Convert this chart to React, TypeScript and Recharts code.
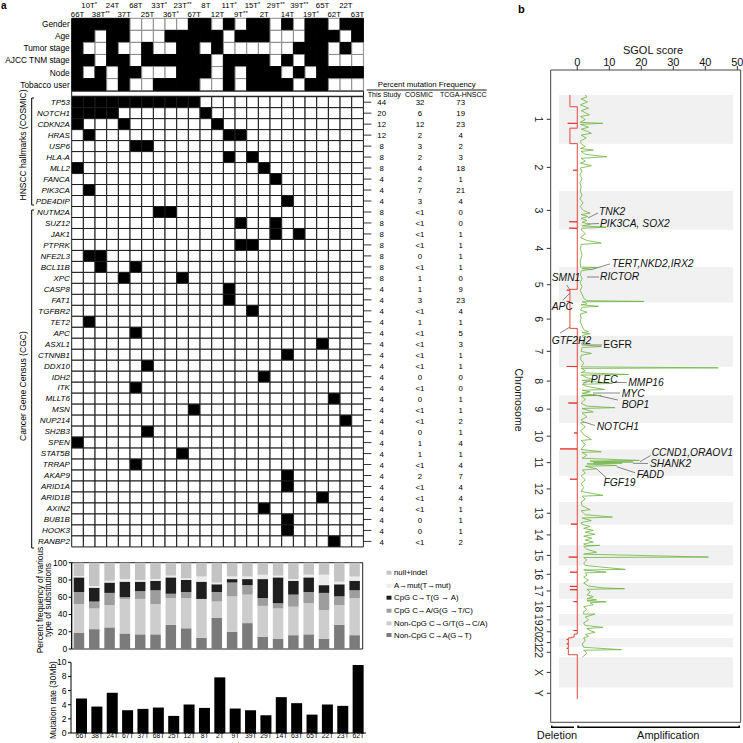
import React from 'react';
import {
  BarChart, Bar, XAxis, YAxis, Cell, ScatterChart, Scatter,
  ReferenceArea, ReferenceLine, ReferenceDot,
} from 'recharts';

const FONT = '"Liberation Sans", Arial, Helvetica, sans-serif';

// ---------------- Panel a data ----------------
const SAMPLES = ['66T', '10T*', '38T**', '24T', '37T', '68T', '25T', '33T*', '36T*', '23T**', '67T', '8T', '12T',
  '11T*', '9T**', '15T*', '2T', '29T**', '14T', '39T**', '19T*', '65T', '62T', '22T', '63T'];

const CLINICAL_ROWS = ['Gender', 'Age', 'Tumor stage', 'AJCC TNM stage', 'Node', 'Tobacco user'];
const GENDER = [1, 1, 1, 1, 1, 0, 0, 0, 0, 0, 1, 1, 0, 1, 0, 1, 1, 0, 1, 0, 1, 1, 0, 1, 1];
const AGE = [1, 1, 0, 1, 1, 0, 0, 0, 1, 1, 1, 1, 1, 0, 1, 1, 1, 0, 0, 0, 1, 1, 1, 0, 1];
const TUMOR_STAGE = [1, 0, 0, 1, 0, 0, 1, 0, 0, 1, 1, 0, 1, 0, 0, 0, 0, 0, 0, 1, 1, 1, 0, 1, 0];
const AJCC_STAGE = [1, 1, 0, 1, 1, 0, 1, 1, 1, 1, 1, 1, 0, 1, 1, 1, 1, 0, 1, 0, 1, 1, 0, 0, 0];
const NODE = [1, 0, 1, 0, 1, 1, 0, 0, 0, 1, 1, 1, 0, 1, 0, 1, 1, 1, 0, 1, 0, 1, 1, 1, 1];
const TOBACCO = [1, 1, 1, 0, 1, 0, 0, 1, 1, 1, 1, 0, 0, 1, 0, 1, 1, 1, 1, 0, 1, 1, 0, 0, 0];
const CLINICAL_VALUES = [GENDER, AGE, TUMOR_STAGE, AJCC_STAGE, NODE, TOBACCO];

const HALLMARK_GENES = ['TP53', 'NOTCH1', 'CDKN2A', 'HRAS', 'USP6', 'HLA-A', 'MLL2', 'FANCA', 'PIK3CA', 'PDE4DIP'];
const CGC_GENES = ['NUTM2A', 'SUZ12', 'JAK1', 'PTPRK', 'NFE2L3', 'BCL11B', 'XPC', 'CASP8', 'FAT1', 'TGFBR2', 'TET2',
  'APC', 'ASXL1', 'CTNNB1', 'DDX10', 'IDH2', 'ITK', 'MLLT6', 'MSN', 'NUP214', 'SH2B3', 'SPEN', 'STAT5B', 'TRRAP',
  'AKAP9', 'ARID1A', 'ARID1B', 'AXIN2', 'BUB1B', 'HOOK3', 'RANBP2'];
const GENES = [...HALLMARK_GENES, ...CGC_GENES];

// mutated sample columns (index into SAMPLES) per gene
const MUTATED_COLUMNS = [
  [0, 1, 2, 3, 4, 5, 6, 7, 8, 9, 10], [0, 1, 2, 3, 11], [0, 4, 12], [1, 13, 14], [5, 6], [13, 15], [0, 16], [17], [1], [18],
  [7, 8], [14, 17], [17, 19], [14, 15], [1, 2], [2, 5], [4, 9], [13], [13], [15], [1],
  [5], [21], [18], [6], [16], [5], [22], [10], [23], [6], [0], [9], [5],
  [18], [18], [21], [16], [18], [18], [22],
];

const FREQ_STUDY = ['44', '20', '12', '12', '8', '8', '8', '4', '4', '4', '8', '8', '8', '8', '8', '8', '8', '4', '4', '4', '4',
  '4', '4', '4', '4', '4', '4', '4', '4', '4', '4', '4', '4', '4', '4', '4', '4', '4', '4', '4', '4'];
const FREQ_COSMIC = ['32', '6', '12', '2', '3', '2', '4', '2', '7', '3', '<1', '<1', '<1', '<1', '0', '<1', '1', '1', '3', '<1', '1',
  '<1', '<1', '<1', '<1', '0', '<1', '0', '<1', '<1', '0', '1', '1', '<1', '2', '<1', '<1', '<1', '0', '0', '<1'];
const FREQ_TCGA = ['73', '19', '23', '4', '2', '3', '18', '1', '21', '4', '0', '0', '1', '1', '1', '1', '0', '9', '23', '4', '1',
  '5', '3', '1', '1', '0', '0', '1', '1', '2', '1', '4', '1', '4', '7', '4', '4', '1', '1', '1', '2'];

const SUB_SAMPLES = ['66T', '38T', '24T', '67T', '37T', '68T', '25T', '12T', '8T', '2T', '9T', '39T', '29T', '14T', '63T',
  '65T', '22T', '23T', '62T'];
const SUB_NONCPG_CA = [19, 23, 25, 18, 17, 17, 28, 24, 13, 36, 20, 30, 14, 12, 16, 17, 12, 28, 16];
const SUB_NONCPG_CGT = [33, 24, 26, 40, 41, 35, 31, 35, 45, 19, 41, 33, 36, 35, 33, 36, 33, 23, 43];
const SUB_CPG_CAG = [14, 8, 14, 2, 9, 16, 5, 7, 0, 11, 16, 11, 9, 6, 14, 13, 20, 10, 9];
const SUB_CPG_CT = [17, 16, 12, 18, 11, 11, 19, 14, 20, 9, 4, 7, 22, 30, 16, 17, 9, 14, 11];
const SUB_A_MUT = [1.5, 2, 2, 3, 2, 2, 2, 2, 6, 2, 3, 3, 5, 2, 2, 3, 12, 3, 5];
const SUB_NULL_INDEL = [15.5, 27, 21, 19, 20, 19, 15, 18, 16, 23, 16, 16, 14, 15, 19, 14, 14, 22, 16];
const SUB_LABELS = ['Non-CpG C\u2192A(G\u2192T)', 'Non-CpG C\u2192G/T(G\u2192C/A)', 'CpG C\u2192A/G(G \u2192T/C)',
  'CpG C\u2192T(G \u2192 A)', 'A\u2192mut(T\u2192mut)', 'null+indel'];
const SUB_COLORS = ['#7b7b7b', '#cdcdcd', '#9d9d9d', '#1e1e1e', '#ebebeb', '#c4c4c4'];

const MUTATION_RATE = [4.88, 3.74, 5.69, 3.22, 3.41, 3.6, 2.42, 4.03, 3.55, 7.87, 3.46, 3.22, 2.51, 5.07, 4.22, 2.6, 4.03, 3.84, 9.62];
const RATE_TICKS = [0, 2, 4, 6, 8, 10];
const PCT_TICKS = [0, 20, 40, 60, 80, 100];

// ---------------- Panel b data ----------------
const CHROMS = ['1', '2', '3', '4', '5', '6', '7', '8', '9', '10', '11', '12', '13', '14', '15', '16', '17', '18', '19', '20', '21', '22', 'X', 'Y'];
const CHROM_LENGTH_MB = [249, 243, 198, 191, 181, 171, 159, 146, 141, 136, 135, 134, 115, 107, 103, 90, 81, 78, 59, 63, 48, 51, 155, 59];
const SGOL_TICKS = [0, 10, 20, 30, 40, 50];

// amplification SGOL profile: [chromosome, Mb within chromosome, score]
const AMP_PROFILE: [string, number, number][] = [
  ['1', 0, 2.5], ['1', 10, 3], ['1', 20, 1.2], ['1', 35, 3.2], ['1', 50, 1], ['1', 68, 3.5], ['1', 80, 1.2], ['1', 95, 3],
  ['1', 102, 3.8], ['1', 110, 1], ['1', 125, 2.5], ['1', 140, 0.9], ['1', 145, 8], ['1', 150, 1], ['1', 165, 3.5], ['1', 175, 1.2],
  ['1', 185, 3], ['1', 196, 4.4], ['1', 205, 1.2], ['1', 220, 2.8], ['1', 235, 1], ['1', 249, 1.2],
  ['2', 15, 2.5], ['2', 25, 1], ['2', 33, 5], ['2', 40, 1.2], ['2', 55, 2.5], ['2', 67, 9.2], ['2', 75, 1.2], ['2', 90, 2.5],
  ['2', 100, 1], ['2', 113, 4.4], ['2', 125, 0.9], ['2', 140, 1.5], ['2', 160, 0.8], ['2', 180, 1.5], ['2', 200, 0.8], ['2', 220, 1.2], ['2', 243, 0.9],
  ['3', 20, 1.5], ['3', 40, 0.8], ['3', 60, 1.8], ['3', 80, 0.9], ['3', 100, 2], ['3', 113, 4], ['3', 120, 1.2], ['3', 130, 3.3],
  ['3', 140, 1.2], ['3', 150, 3], ['3', 160, 1.5], ['3', 170, 4], ['3', 178, 1.5], ['3', 185, 9], ['3', 190, 1.5], ['3', 198, 1.2],
  ['4', 20, 2.5], ['4', 40, 1], ['4', 55, 3], ['4', 68, 7.5], ['4', 75, 1.2], ['4', 100, 1], ['4', 130, 1.5], ['4', 160, 0.9], ['4', 191, 1],
  ['5', 2, 6.5], ['5', 8, 1.5], ['5', 12, 4], ['5', 20, 1.2], ['5', 40, 1], ['5', 60, 1.5], ['5', 80, 0.9], ['5', 100, 1.5],
  ['5', 120, 0.9], ['5', 140, 1.5], ['5', 160, 2], ['5', 172, 3], ['5', 176, 20.8], ['5', 178, 1.5], ['5', 181, 2.5],
  ['6', 8, 3], ['6', 12, 1.2], ['6', 20, 6.6], ['6', 25, 1.5], ['6', 40, 1], ['6', 50, 3], ['6', 60, 0.9], ['6', 80, 1.2],
  ['6', 100, 0.9], ['6', 120, 1.5], ['6', 140, 2], ['6', 150, 3.5], ['6', 155, 1.5], ['6', 160, 4], ['6', 165, 2.5], ['6', 171, 1.5],
  ['7', 20, 2.5], ['7', 40, 1.2], ['7', 50, 4], ['7', 55, 7.5], ['7', 60, 1.5], ['7', 80, 1.2], ['7', 90, 4.4], ['7', 100, 1.2],
  ['7', 120, 1], ['7', 140, 2], ['7', 159, 1.2],
  ['8', 5, 44], ['8', 8, 1.2], ['8', 20, 2.5], ['8', 30, 1.2], ['8', 39, 16], ['8', 42, 1.2], ['8', 55, 3], ['8', 65, 5],
  ['8', 70, 1.5], ['8', 85, 11], ['8', 89, 1.5], ['8', 100, 3], ['8', 116, 8.5], ['8', 120, 1.5], ['8', 128, 4], ['8', 135, 1.5],
  ['8', 145, 5], ['8', 146, 1.5],
  ['9', 0, 7.5], ['9', 3, 1.2], ['9', 20, 2.5], ['9', 40, 1.2], ['9', 55, 3], ['9', 63, 11.8], ['9', 67, 1.5], ['9', 85, 5],
  ['9', 90, 1.5], ['9', 110, 3], ['9', 125, 1.2], ['9', 139, 2], ['9', 141, 1],
  ['10', 20, 2.5], ['10', 40, 1], ['10', 60, 2], ['10', 85, 4.4], ['10', 90, 1.2], ['10', 110, 2.5], ['10', 136, 1.2],
  ['11', 12, 7.5], ['11', 15, 1.5], ['11', 30, 3], ['11', 45, 1.5], ['11', 56, 19.4], ['11', 60, 4], ['11', 64, 17.5],
  ['11', 68, 5], ['11', 70, 14], ['11', 74, 3], ['11', 82, 12.3], ['11', 86, 2.5], ['11', 99, 6], ['11', 105, 1.5],
  ['11', 120, 2.5], ['11', 135, 1.2],
  ['12', 20, 2.5], ['12', 40, 1.2], ['12', 60, 2], ['12', 80, 1.2], ['12', 100, 8], ['12', 104, 1.5], ['12', 120, 2.5], ['12', 134, 1.2],
  ['13', 20, 1.5], ['13', 39, 4], ['13', 45, 1.2], ['13', 65, 2.5], ['13', 77, 11], ['13', 82, 1.5], ['13', 95, 4.4],
  ['13', 105, 1.2], ['13', 115, 1.5],
  ['14', 10, 4], ['14', 20, 2], ['14', 30, 5], ['14', 40, 2.5], ['14', 50, 5.5], ['14', 60, 2], ['14', 70, 4.5], ['14', 80, 2.5],
  ['14', 90, 5], ['14', 100, 2], ['14', 107, 3],
  ['15', 0, 7], ['15', 5, 2], ['15', 20, 3], ['15', 35, 6], ['15', 45, 2], ['15', 60, 41], ['15', 62, 2], ['15', 75, 3],
  ['15', 90, 2], ['15', 103, 2.5],
  ['16', 20, 15], ['16', 23, 2], ['16', 34, 9], ['16', 38, 2.5], ['16', 50, 3], ['16', 60, 2], ['16', 75, 3.5], ['16', 90, 2],
  ['17', 15, 3.5], ['17', 25, 8], ['17', 29, 14.8], ['17', 32, 3], ['17', 45, 4], ['17', 60, 3], ['17', 70, 5], ['17', 81, 3],
  ['18', 0, 4], ['18', 5, 6], ['18', 10, 3], ['18', 15, 9], ['18', 20, 4], ['18', 30, 5], ['18', 40, 2], ['18', 55, 3],
  ['18', 65, 2], ['18', 78, 2],
  ['19', 0, 5.5], ['19', 15, 2.5], ['19', 30, 3.5], ['19', 45, 2], ['19', 59, 2.5],
  ['20', 0, 3], ['20', 9, 8], ['20', 15, 3], ['20', 25, 4], ['20', 34, 5.5], ['20', 45, 2.5], ['20', 55, 3.5], ['20', 63, 2],
  ['21', 15, 2.5], ['21', 30, 1.5], ['21', 48, 2],
  ['22', 12, 13.8], ['22', 15, 2], ['22', 30, 3], ['22', 45, 2], ['22', 51, 1.5],
];

// deletion SGOL profile: [chromosome, Mb within chromosome, score]
const DEL_PROFILE: [string, number, number][] = [
  ['1', 0, -2.3], ['1', 60, -2.3], ['1', 60, 0], ['1', 145, 0], ['1', 145, -3], ['1', 146, 0], ['1', 170, 0], ['1', 170, -2.3],
  ['1', 249, -2.3], ['1', 249, 0],
  ['2', 136, 0], ['2', 136, -1.3], ['2', 137, 0],
  ['3', 157, 0], ['3', 157, -2.5], ['3', 158, 0], ['3', 190, 0], ['3', 190, -2.5], ['3', 191, 0],
  ['5', 114, 0], ['5', 114, -2.3], ['5', 118, -2.3], ['5', 118, -3.3], ['5', 119, -2.3], ['5', 176, -2.3], ['5', 176, -3.3],
  ['5', 177, -2.3], ['6', 133, -2.3], ['6', 133, 0],
  ['7', 157, 0], ['7', 157, -3.3], ['7', 158, 0],
  ['9', 39, 0], ['9', 39, -2.8], ['9', 40, 0],
  ['10', 51, 0], ['10', 51, -1], ['10', 52, 0], ['10', 133, 0], ['10', 133, -5.4], ['10', 134, 0],
  ['12', 17, 0], ['12', 17, -2.3], ['12', 18, 0],
  ['13', 113, 0], ['13', 113, -2], ['13', 114, 0],
  ['15', 60, 0], ['15', 60, -2.7], ['15', 61, 0],
  ['16', 34, 0], ['16', 34, -2.3], ['16', 35, 0],
  ['17', 17, 0], ['17', 17, -2.3], ['17', 18, 0], ['17', 34, 0], ['17', 34, -2.3], ['17', 35, 0],
  ['18', 14, 0], ['18', 14, -1.2], ['18', 15, 0],
  ['20', 25, 0], ['20', 25, -1.2], ['20', 26, 0], ['20', 43, 0], ['20', 43, -1], ['20', 59, -1], ['20', 59, -1.8],
  ['21', 0, -1.8], ['21', 0, -2.8], ['21', 8, -2.8], ['21', 8, -3.3], ['21', 9, -2.8], ['21', 30, -2.8], ['21', 30, -3.3],
  ['21', 31, -2.8], ['22', 5, -2.8], ['22', 5, -3.3], ['22', 6, -2.8], ['22', 38, -2.8], ['22', 38, 0],
  ['Y', 59, 0],
];

// gene annotations: label, text anchor (score, genome Mb), leader line from/to (score, genome Mb)
const GENE_NOTES = [
  { label: 'TNK2', italic: true, at: [6.78, 597.5], from: [3.34, 629.8], to: [6.47, 604.2] },
  { label: 'PIK3CA, SOX2', italic: true, at: [7.09, 657], from: [3.34, 660.5], to: [6.78, 658] },
  { label: 'TERT,NKD2,IRX2', italic: true, at: [10.75, 861.8], from: [3.97, 896], to: [10.2, 865] },
  { label: 'RICTOR', italic: true, at: [7.09, 930.4], from: [3.03, 931.9], to: [6.78, 931.9] },
  { label: 'SMN1', italic: true, at: [-8, 935.5], from: [-3.31, 972.9], to: [-2.28, 998.5] },
  { label: 'APC', italic: true, at: [-8, 1083.9], from: [-4.47, 1050.2], to: [-2.28, 1013.8] },
  { label: 'GTF2H2', italic: true, at: [-8, 1254.5], from: [-5.4, 1218.6], to: [-2.28, 1187.9] },
  { label: 'EGFR', italic: false, at: [8.13, 1275], from: [1.38, 1280], to: [7.72, 1280] },
  { label: 'PLEC', italic: true, at: [4.19, 1457], from: [1.78, 1475], to: [3.97, 1464] },
  { label: 'MMP16', italic: true, at: [15.94, 1472], from: [11.16, 1472], to: [15.44, 1472] },
  { label: 'MYC', italic: true, at: [13.88, 1526], from: [4.91, 1526], to: [13.34, 1526] },
  { label: 'BOP1', italic: true, at: [13.88, 1582], from: [4.91, 1533.5], to: [12.72, 1562] },
  { label: 'NOTCH1', italic: true, at: [6.06, 1698.4], from: [1.78, 1672.8], to: [5.53, 1692.3] },
  { label: 'CCND1,ORAOV1', italic: true, at: [23.25, 1831], from: [19.6, 1877.6], to: [22.9, 1846] },
  { label: 'SHANK2', italic: true, at: [22.72, 1888], from: [17.4, 1885.8], to: [22.1, 1886.8] },
  { label: 'FADD', italic: true, at: [18.56, 1943], from: [12.31, 1903.2], to: [18.03, 1934] },
  { label: 'FGF19', italic: true, at: [8.2, 1984], from: [6.06, 1915], to: [9.19, 1962] },
];

// ---------------- derived tables ----------------
const COLS = SAMPLES.map((_, i) => `c${i}`);
const unitRow = (label: string) => {
  const o: any = { label };
  COLS.forEach((k) => { o[k] = 1; });
  return o;
};
const clinicalTable = CLINICAL_ROWS.map(unitRow);
const geneTable = GENES.map(unitRow);
const SAMPLE_TICKS = SAMPLES.map((_, i) => i + 0.5);

const subTable = SUB_SAMPLES.map((s, i) => ({
  sample: s,
  k0: SUB_NONCPG_CA[i], k1: SUB_NONCPG_CGT[i], k2: SUB_CPG_CAG[i],
  k3: SUB_CPG_CT[i], k4: SUB_A_MUT[i], k5: SUB_NULL_INDEL[i],
}));
const rateTable = SUB_SAMPLES.map((s, i) => ({ sample: s, rate: MUTATION_RATE[i] }));

const CHROM_START: number[] = [];
CHROM_LENGTH_MB.reduce((acc, len, i) => { CHROM_START[i] = acc; return acc + len; }, 0);
const CHROM_MID = CHROM_LENGTH_MB.map((len, i) => CHROM_START[i] + len / 2);
const toGenome = (p: [string, number, number]) => ({ pos: CHROM_START[CHROMS.indexOf(p[0])] + p[1], v: p[2] });
const ampData = AMP_PROFILE.map(toGenome);
const delData = DEL_PROFILE.map(toGenome);

const X_DOMAIN = [-8.31, 51.06];
const Y_DOMAIN = [-128, 3212];

// ---------------- ticks ----------------
const SampleTick = (props: any) => {
  const { x, y, payload } = props;
  const idx = Math.floor(payload.value);
  const name = SAMPLES[idx] || '';
  const base = name.replace(/\*+$/, '');
  const stars = name.slice(base.length);
  const upper = idx % 2 === 1;
  return (
    <text x={x} y={upper ? y - 10.6 : y - 1.2} textAnchor="middle" fontSize={7.8} fontFamily={FONT} fill="#000">
      {base}
      {stars ? <tspan dy={-2.2} fontSize={6}>{stars}</tspan> : null}
    </text>
  );
};

const RowLabelTick = (props: any) => {
  const { x, y, payload } = props;
  return (
    <text x={x} y={y} dy="0.35em" textAnchor="end" fontSize={8.3} fontFamily={FONT} fill="#000">{payload.value}</text>
  );
};

const GeneTick = (props: any) => {
  const { x, y, payload } = props;
  return (
    <text x={x} y={y} dy="0.35em" textAnchor="end" fontSize={8} fontStyle="italic" fontFamily={FONT} fill="#000">{payload.value}</text>
  );
};

const FreqTick = (props: any) => {
  const { x, y, payload } = props;
  const i = GENES.indexOf(payload.value);
  return (
    <g fontSize={7.8} fontFamily={FONT} fill="#000" textAnchor="middle">
      <text x={x + 10.3} y={y} dy="0.4em">{FREQ_STUDY[i]}</text>
      <text x={x + 48.6} y={y} dy="0.4em">{FREQ_COSMIC[i]}</text>
      <text x={x + 89.3} y={y} dy="0.4em">{FREQ_TCGA[i]}</text>
    </g>
  );
};

const ChromTick = (props: any) => {
  const { x, y, payload } = props;
  let idx = 0;
  CHROM_MID.forEach((m, i) => { if (Math.abs(m - payload.value) < Math.abs(CHROM_MID[idx] - payload.value)) idx = i; });
  return (
    <text x={x} y={y} transform={`rotate(90, ${x}, ${y})`} textAnchor="middle" dy="0.35em" fontSize={10.5} fontFamily={FONT} fill="#222">
      {CHROMS[idx]}
    </text>
  );
};

const RateTick = (props: any) => {
  const { x, y, payload } = props;
  return (
    <text x={x} y={y} dy="0.62em" textAnchor="middle" fontSize={6.8} fontFamily={FONT} fill="#000">{payload.value}</text>
  );
};

const NoShape = () => <g />;

// ---------------- charts ----------------
function ClinicalChart() {
  return (
    <BarChart width={500} height={95} data={clinicalTable} layout="vertical"
      margin={{ top: 0, right: 136.6, bottom: 4.3, left: 0 }} barCategoryGap={0} barGap={0}>
      <XAxis type="number" orientation="top" domain={[0, 25]} ticks={SAMPLE_TICKS} interval={0} height={18.3}
        axisLine={false} tickLine={false} tickSize={0} tickMargin={0} tick={SampleTick} />
      <YAxis type="category" dataKey="label" width={71.7} axisLine={false} tickLine={false} tickSize={0} tickMargin={2}
        interval={0} tick={RowLabelTick} />
      {COLS.map((k, ci) => (
        <Bar key={k} dataKey={k} stackId="clin" isAnimationActive={false}>
          {CLINICAL_ROWS.map((r, ri) => (
            <Cell key={r} fill={CLINICAL_VALUES[ri][ci] ? '#000' : '#fff'}
              stroke={CLINICAL_VALUES[ri][ci] ? '#000' : '#8a8a8a'} strokeWidth={1} />
          ))}
        </Bar>
      ))}
    </BarChart>
  );
}

function MutationMatrix() {
  return (
    <BarChart width={500} height={470} data={geneTable} layout="vertical"
      margin={{ top: 6.7, right: 0, bottom: 13.1, left: 0 }} barCategoryGap={0} barGap={0}>
      <XAxis type="number" domain={[0, 25]} hide />
      <YAxis yAxisId="genes" type="category" dataKey="label" width={71.7} axisLine={false} tickLine={false}
        tickSize={0} tickMargin={1.8} interval={0} tick={GeneTick} />
      <YAxis yAxisId="freq" orientation="right" type="category" dataKey="label" width={136.6} axisLine={false}
        tickLine={{ stroke: '#000', strokeWidth: 0.8 }} tickSize={8} tickMargin={0} interval={0} tick={FreqTick} />
      {COLS.map((k, ci) => (
        <Bar key={k} yAxisId="genes" dataKey={k} stackId="mut" isAnimationActive={false} stroke="#1a1a1a" strokeWidth={1}>
          {GENES.map((g, ri) => (
            <Cell key={g} fill={MUTATED_COLUMNS[ri].includes(ci) ? '#000' : '#fff'} />
          ))}
        </Bar>
      ))}
    </BarChart>
  );
}

function SubstitutionChart() {
  return (
    <BarChart width={380} height={100} data={subTable} margin={{ top: 7.7, right: 17.3, bottom: 6, left: 0 }} barSize={10.5}>
      <XAxis dataKey="sample" hide />
      <YAxis type="number" domain={[0, 100]} ticks={PCT_TICKS} width={71.7} tickSize={3} tickMargin={1.5}
        axisLine={{ stroke: '#000' }} tickLine={{ stroke: '#000' }}
        tick={{ fontSize: 8.5, fill: '#000', fontFamily: FONT }} interval={0} />
      <ReferenceArea y1={0} y2={100} fill="none" stroke="#222" strokeWidth={1} />
      {SUB_COLORS.map((c, i) => (
        <Bar key={i} dataKey={`k${i}`} stackId="sub" fill={c} isAnimationActive={false} />
      ))}
    </BarChart>
  );
}

function RateChart() {
  return (
    <BarChart width={380} height={88} data={rateTable} margin={{ top: 7.3, right: 14, bottom: 0, left: 0 }} barSize={11}>
      <XAxis dataKey="sample" height={10} tickLine={false} tickSize={0} tickMargin={1.2} interval={0} padding={{ left: 3, right: 0 }}
        axisLine={{ stroke: '#000' }} tick={RateTick} />
      <YAxis type="number" domain={[0, 10]} ticks={RATE_TICKS} width={71} tickSize={3} tickMargin={1.5}
        axisLine={{ stroke: '#000' }} tickLine={{ stroke: '#000' }}
        tick={{ fontSize: 8.5, fill: '#000', fontFamily: FONT }} interval={0} />
      <Bar dataKey="rate" fill="#000" isAnimationActive={false} />
    </BarChart>
  );
}

function SgolChart() {
  return (
    <ScatterChart width={243} height={743} margin={{ top: 50, right: 2.3, bottom: 20.7, left: 0 }}>
      <XAxis type="number" dataKey="v" orientation="top" domain={X_DOMAIN} ticks={SGOL_TICKS} allowDataOverflow
        height={20} tickSize={4} tickMargin={0} axisLine={false} tickLine={{ stroke: '#333' }}
        tick={{ fontSize: 11, fill: '#111', fontFamily: FONT }} interval={0} />
      <YAxis type="number" dataKey="pos" domain={Y_DOMAIN} reversed allowDataOverflow ticks={CHROM_MID} interval={0}
        width={50.7} tickSize={4} tickMargin={8.4} axisLine={false} tickLine={{ stroke: '#333' }} tick={ChromTick} />
      {CHROMS.map((c, i) => (i % 2 === 0 && i < 23 ? (
        <ReferenceArea key={c} x1={-5.7} x2={48.7} y1={CHROM_START[i]} y2={CHROM_START[i] + CHROM_LENGTH_MB[i]}
          fill="#f1f1f1" fillOpacity={1} stroke="none" />
      ) : null))}
      <ReferenceArea x1={X_DOMAIN[0]} x2={X_DOMAIN[1]} y1={Y_DOMAIN[0]} y2={Y_DOMAIN[1]} fill="none" stroke="#444" strokeWidth={1} />
      <Scatter data={ampData} line={{ stroke: '#6cb33f', strokeWidth: 0.8 }} lineType="joint" shape={NoShape}
        isAnimationActive={false} />
      <Scatter data={delData} line={{ stroke: '#e3342b', strokeWidth: 0.9 }} lineType="joint" shape={NoShape}
        isAnimationActive={false} />
      {GENE_NOTES.map((n) => (
        <ReferenceLine key={`l-${n.label}`} segment={[{ x: n.from[0], y: n.from[1] }, { x: n.to[0], y: n.to[1] }]}
          stroke="#777" strokeWidth={0.9} />
      ))}
      {GENE_NOTES.map((n) => (
        <ReferenceDot key={`t-${n.label}`} x={n.at[0]} y={n.at[1]} r={0}
          shape={(p: any) => (
            <text x={p.cx} y={p.cy} dy="0.35em" fontSize={10.3} fontStyle={n.italic ? 'italic' : 'normal'}
              fontFamily={FONT} fill="#111">{n.label}</text>
          )} />
      ))}
    </ScatterChart>
  );
}

function Overlay() {
  const legendY = [635, 623.3, 610.7, 597.7, 585.7, 572.7];
  return (
    <svg width={743} height={743} style={{ position: 'absolute', left: 0, top: 0, pointerEvents: 'none' }}
      fontFamily={FONT}>
      <text x={1} y={9} fontSize={10} fontWeight="bold">a</text>
      <text x={518} y={12.5} fontSize={11} fontWeight="bold">b</text>
      <rect x={71.7} y={91.2} width={291.7} height={5} fill="#fff" stroke="#000" strokeWidth={0.9} />
      <path d="M34,98 L31.7,98 L31.7,205 L34,205" fill="none" stroke="#000" strokeWidth={1} />
      <path d="M34,210 L31.7,210 L31.7,548 L34,548" fill="none" stroke="#000" strokeWidth={1} />
      <text x={22.7} y={145} transform="rotate(-90, 22.7, 145)" textAnchor="middle" dy="0.35em" fontSize={8.5}>HNSCC hallmarks (COSMIC)</text>
      <text x={22.7} y={386} transform="rotate(-90, 22.7, 386)" textAnchor="middle" dy="0.35em" fontSize={8.6}>Cancer Gene Census (CGC)</text>
      <text x={426.7} y={87} textAnchor="middle" fontSize={7.8}>Percent mutation Frequency</text>
      <line x1={366.7} x2={486.7} y1={90} y2={90} stroke="#000" strokeWidth={0.9} />
      <text x={384.3} y={97.4} textAnchor="middle" fontSize={7}>This Study</text>
      <text x={419} y={97.4} textAnchor="middle" fontSize={7}>COSMIC</text>
      <text x={463.3} y={97.4} textAnchor="middle" fontSize={7}>TCGA-HNSCC</text>
      {SUB_LABELS.map((l, i) => (
        <g key={l}>
          <rect x={386.5} y={legendY[i] - 2} width={5} height={4} fill={SUB_COLORS[i]} />
          <text x={394} y={legendY[i]} dy="0.35em" fontSize={7.8}>{l}</text>
        </g>
      ))}
      <text x={40} y={600} transform="rotate(-90, 40, 600)" textAnchor="middle" dy="0.35em" fontSize={8.4}>Percent frequency of various</text>
      <text x={48.5} y={600} transform="rotate(-90, 48.5, 600)" textAnchor="middle" dy="0.35em" fontSize={8.4}>type of substitutions</text>
      <text x={53.5} y={700} transform="rotate(-90, 53.5, 700)" textAnchor="middle" dy="0.35em" fontSize={8.4}>Mutation rate (30Mb)</text>
      <text x={653} y={54} textAnchor="middle" fontSize={11} fill="#111">SGOL score</text>
      <text x={519} y={400} transform="rotate(90, 519, 400)" textAnchor="middle" dy="0.35em" fontSize={10.5} fill="#111">Chromosome</text>
      <path d="M551.7,725.5 L551.7,727.3 L574,727.3" fill="none" stroke="#000" strokeWidth={1.4} />
      <path d="M578,725.5 L578,727.3 L739.3,727.3 L739.3,725.5" fill="none" stroke="#000" strokeWidth={1.4} />
      <text x={557} y={739} textAnchor="middle" fontSize={11} fill="#111">Deletion</text>
      <text x={668.3} y={739} textAnchor="middle" fontSize={11} fill="#111">Amplification</text>
    </svg>
  );
}

export default function App() {
  return (
    <div style={{ position: 'absolute', left: 0, top: 0, width: 743, height: 743, background: '#fff', overflow: 'hidden', fontFamily: FONT }}>
      <div style={{ position: 'absolute', left: 0, top: 0 }}><ClinicalChart /></div>
      <div style={{ position: 'absolute', left: 0, top: 90 }}><MutationMatrix /></div>
      <div style={{ position: 'absolute', left: 0, top: 555 }}><SubstitutionChart /></div>
      <div style={{ position: 'absolute', left: 0, top: 655 }}><RateChart /></div>
      <div style={{ position: 'absolute', left: 500, top: 0 }}><SgolChart /></div>
      <Overlay />
    </div>
  );
}
